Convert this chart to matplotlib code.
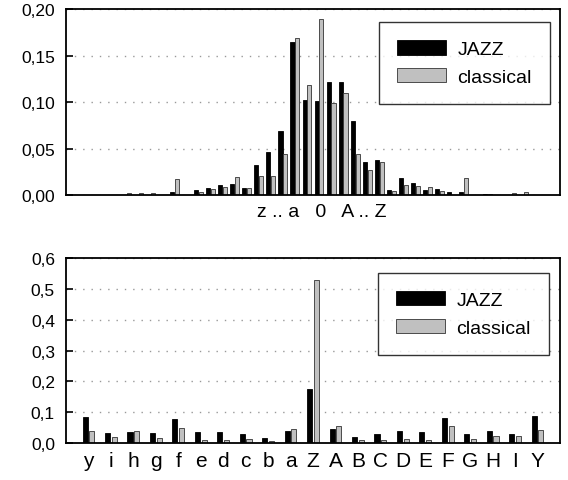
import matplotlib

matplotlib.use("Agg")
import matplotlib.pyplot as plt
import numpy as np

plt.rcParams["font.family"] = ["Liberation Sans", "DejaVu Sans"]

# top panel: interval histogram, 42 bins, "0" bin at index 21
top_jazz = [0, 0, 0, 0, 0, 0, 0, 0, 0,
            0.003, 0, 0.0057, 0.0079, 0.0104, 0.0118, 0.0075, 0.0326, 0.0462,
            0.0688, 0.164, 0.1025, 0.1007, 0.122, 0.1215, 0.080, 0.035, 0.0373,
            0.0057, 0.018, 0.0129, 0.0054, 0.006, 0.0035, 0.003, 0, 0.001,
            0, 0, 0, 0, 0, 0]
top_classical = [0, 0, 0, 0, 0, 0.002, 0.002, 0.002, 0,
                 0.017, 0, 0.0036, 0.0065, 0.0086, 0.019, 0.0075, 0.0204, 0.0208,
                 0.044, 0.169, 0.1186, 0.189, 0.0993, 0.110, 0.044, 0.0265, 0.0358,
                 0.0046, 0.0104, 0.0093, 0.0082, 0.004, 0, 0.018, 0, 0.0015,
                 0, 0.0018, 0.003, 0, 0, 0]
top_label = "z .. a   0   A .. Z"
top_yticks = [0.0, 0.05, 0.10, 0.15, 0.20]
top_yticklabels = ["0,00", "0,05", "0,10", "0,15", "0,20"]

# bottom panel: per-category frequencies
bottom_cats = ["y", "i", "h", "g", "f", "e", "d", "c", "b", "a", "Z",
               "A", "B", "C", "D", "E", "F", "G", "H", "I", "Y"]
bottom_jazz = [0.0847, 0.0326, 0.037, 0.0326, 0.078, 0.0348, 0.036, 0.029,
               0.0163, 0.040, 0.174, 0.0467, 0.0185, 0.029, 0.038, 0.037,
               0.080, 0.030, 0.040, 0.030, 0.088]
bottom_classical = [0.040, 0.0195, 0.038, 0.0163, 0.048, 0.0098, 0.0087, 0.013,
                    0.0076, 0.0456, 0.53, 0.054, 0.0087, 0.0098, 0.013, 0.0098,
                    0.054, 0.013, 0.023, 0.023, 0.0435]
bottom_yticks = [0.0, 0.1, 0.2, 0.3, 0.4, 0.5, 0.6]
bottom_yticklabels = ["0,0", "0,1", "0,2", "0,3", "0,4", "0,5", "0,6"]

JAZZ_COLOR = "black"
CLASSICAL_COLOR = "#c0c0c0"


def style_axes(ax, yticks, yticklabels):
    ax.set_yticks(yticks)
    ax.set_yticklabels(yticklabels, fontsize=12.5)
    ax.set_ylim(yticks[0], yticks[-1])
    ax.tick_params(axis="y", direction="in", length=5, width=1.2, pad=8)
    ax.tick_params(axis="x", length=0, pad=6)
    ax.yaxis.grid(True, linestyle=(0, (1, 5)), color="#999999", linewidth=1)
    ax.set_axisbelow(True)
    for sp in ax.spines.values():
        sp.set_linewidth(1.3)
    leg = ax.legend(
        loc="upper right",
        fontsize=14,
        frameon=True,
        fancybox=False,
        edgecolor="black",
        handlelength=2.5,
        handleheight=0.75,
        handletextpad=0.6,
        labelspacing=0.5,
        borderpad=0.95,
        borderaxespad=0,
    )
    leg.get_frame().set_linewidth(1.0)
    return leg


fig = plt.figure(figsize=(5.68, 4.81), dpi=100)
ax1 = fig.add_axes([0.1162, 0.5925, 0.8697, 0.3867])
ax2 = fig.add_axes([0.1162, 0.0769, 0.8697, 0.3840])

# top
x1 = np.arange(len(top_jazz))
w1 = 0.34
ax1.bar(x1 - 0.2, top_jazz, w1, color=JAZZ_COLOR, edgecolor="black",
        linewidth=0.6, label="JAZZ")
ax1.bar(x1 + 0.2, top_classical, w1, color=CLASSICAL_COLOR, edgecolor="#333333",
        linewidth=0.6, label="classical")
ax1.set_xlim(0, len(top_jazz) - 1)
ax1.set_xticks([21.2])
ax1.set_xticklabels([top_label], fontsize=14)
leg1 = style_axes(ax1, top_yticks, top_yticklabels)
leg1.set_bbox_to_anchor((0.98, 0.93))

# bottom
x2 = np.arange(len(bottom_cats))
w2 = 0.23
ax2.bar(x2 - 0.15, bottom_jazz, w2, color=JAZZ_COLOR, edgecolor="black",
        linewidth=0.6, label="JAZZ")
ax2.bar(x2 + 0.15, bottom_classical, w2, color=CLASSICAL_COLOR, edgecolor="#333333",
        linewidth=0.6, label="classical")
ax2.set_xlim(-1, len(bottom_cats))
ax2.set_xticks(x2)
ax2.set_xticklabels(bottom_cats, fontsize=15)
leg2 = style_axes(ax2, bottom_yticks, bottom_yticklabels)
leg2.set_bbox_to_anchor((0.978, 0.922))

fig.savefig("out.png", dpi=100)
plt.close(fig)
